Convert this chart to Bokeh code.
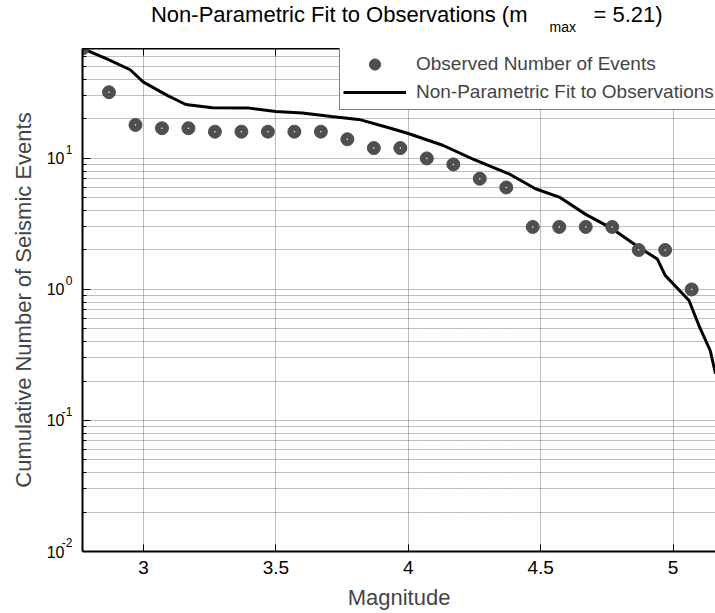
from bokeh.plotting import figure
from bokeh.layouts import column
from bokeh.models import (Range1d, LinearAxis, LogAxis, FixedTicker, Legend, LegendItem,
                          CustomJSTickFormatter)
from bokeh.core.properties import value
from bokeh.embed import file_html
from bokeh.resources import INLINE

# ---------------- data ----------------
magnitudes = [2.77, 2.87, 2.97, 3.07, 3.17, 3.27, 3.37, 3.47, 3.57, 3.67, 3.77, 3.87,
              3.97, 4.07, 4.17, 4.27, 4.37, 4.47, 4.57, 4.67, 4.77, 4.87, 4.97, 5.07]
observed_counts = [69, 32, 18, 17, 17, 16, 16, 16, 16, 16, 14, 12,
                   12, 10, 9, 7, 6, 3, 3, 3, 3, 2, 2, 1]

fit_magnitudes = [2.77, 2.86, 2.95, 3.00, 3.09, 3.16, 3.26, 3.40, 3.50, 3.60, 3.71, 3.82,
                  3.92, 4.00, 4.13, 4.24, 4.38, 4.48, 4.57, 4.67, 4.77, 4.87, 4.94, 4.97,
                  5.06, 5.10, 5.14, 5.16]
fit_counts = [69, 57.7, 47.5, 38.2, 30.3, 25.8, 24.4, 24.2, 22.8, 22.2, 20.9, 19.7,
              17.3, 15.5, 12.6, 9.95, 7.63, 5.87, 5.07, 3.74, 2.91, 2.10, 1.71, 1.28,
              0.824, 0.515, 0.342, 0.228]

x_ticks = [3, 3.5, 4, 4.5, 5]
y_decades = [-2, -1, 0, 1]
y_tick_base = "10"
y_exponent_labels = ["-2", "-1", "0", "1"]

title_main = "Non-Parametric Fit to Observations (m"
title_sub = "max"
title_tail = "= 5.21)"
x_label = "Magnitude"
y_label = "Cumulative Number of Seismic Events"
legend_labels = ["Observed Number of Events", "Non-Parametric Fit to Observations"]

FONT = "Liberation Sans"
x_start, x_end = 2.77, 5.16
y_start, y_end = 0.01, 69

# ---------------- header with title (subscript) ----------------
# The column aligns this frame with the main frame (page x 82..715), so the
# header range is expressed in page pixels.
head = figure(width=715, height=48, x_range=Range1d(82, 715), y_range=Range1d(0, 48),
              output_backend="svg", toolbar_location=None, title=None,
              x_axis_location=None, y_axis_location=None,
              min_border_left=0, min_border_right=0, min_border_top=0, min_border_bottom=0)
head.outline_line_color = None
head.xgrid.visible = False
head.ygrid.visible = False
head.text(x=[527], y=[34], text=[title_main], text_align="right", text_baseline="alphabetic",
          text_font=value(FONT), text_font_size="22px", text_color="black")
head.text(x=[549], y=[22], text=[title_sub], text_align="left", text_baseline="alphabetic",
          text_font=value(FONT), text_font_size="14px", text_color="black")
head.text(x=[593], y=[34], text=[title_tail], text_align="left", text_baseline="alphabetic",
          text_font=value(FONT), text_font_size="22px", text_color="black")

# ---------------- main figure ----------------
p = figure(width=715, height=565, title=None,
           x_range=Range1d(x_start, x_end), y_range=Range1d(y_start, y_end),
           y_axis_type="log", y_axis_location=None, output_backend="svg",
           toolbar_location=None,
           min_border_left=82, min_border_right=0, min_border_top=0, min_border_bottom=62,
           x_axis_label=x_label)
p.outline_line_color = None
p.background_fill_color = "white"
p.border_fill_color = "white"

empty_fmt = CustomJSTickFormatter(code="return ''")
major_y = [10 ** d for d in y_decades]
minor_y = [m * 10 ** d for d in y_decades for m in range(2, 10)]

# x axis (bottom)
xa = p.xaxis[0]
xa.ticker = FixedTicker(ticks=x_ticks)
xa.major_tick_in = 7
xa.major_tick_out = 0
xa.minor_tick_line_color = None
xa.axis_line_width = 2
xa.major_label_text_font = FONT
xa.major_label_text_font_size = "19px"
xa.major_label_text_color = "black"
xa.major_label_standoff = 9
xa.axis_label_text_font = FONT
xa.axis_label_text_font_size = "22px"
xa.axis_label_text_font_style = "normal"
xa.axis_label_standoff = 8

# y axis: inner axis carries the line, ticks and the raised exponents
exp_fmt = CustomJSTickFormatter(args=dict(decs=y_decades, exps=y_exponent_labels),
                                code="return exps[decs.indexOf(Math.round(Math.log10(tick)))] + '\\n\\u00a0';")
ya = LogAxis(ticker=FixedTicker(ticks=major_y, minor_ticks=minor_y), formatter=exp_fmt,
             major_tick_in=8, major_tick_out=0, minor_tick_in=4, minor_tick_out=0,
             axis_line_width=2, major_label_standoff=10,
             major_label_text_font=FONT, major_label_text_font_size="12px",
             major_label_text_color="black")
p.add_layout(ya, "left")
# outer axis carries the "10" bases and the axis title
base_fmt = CustomJSTickFormatter(args=dict(base=y_tick_base), code="return base;")
yb = LogAxis(ticker=FixedTicker(ticks=major_y), formatter=base_fmt,
             axis_line_color=None, major_tick_line_color=None, minor_tick_line_color=None,
             major_tick_in=0, major_tick_out=0, minor_tick_in=0, minor_tick_out=0,
             major_label_standoff=-6, major_label_text_font=FONT,
             major_label_text_font_size="16px", major_label_text_color="black",
             axis_label=y_label, axis_label_text_font=FONT, axis_label_text_font_size="22px",
             axis_label_text_font_style="normal", axis_label_standoff=8)
p.add_layout(yb, "left")

# top axis (ticks only)
top = LinearAxis(ticker=FixedTicker(ticks=x_ticks), formatter=empty_fmt,
                 major_tick_in=7, major_tick_out=0, minor_tick_line_color=None,
                 axis_line_width=2, major_label_text_font_size="0px", major_label_standoff=0)
p.add_layout(top, "above")

# grids
grid_color = "#7c7c7c"
p.xgrid.ticker = FixedTicker(ticks=x_ticks)
p.xgrid.grid_line_color = grid_color
p.xgrid.grid_line_dash = "1 1"
p.ygrid.ticker = FixedTicker(ticks=major_y, minor_ticks=minor_y)
p.ygrid.grid_line_color = grid_color
p.ygrid.grid_line_dash = "1 1"
p.ygrid.minor_grid_line_color = grid_color
p.ygrid.minor_grid_line_dash = "1 1"

# ---------------- data glyphs ----------------
r_line = p.line(fit_magnitudes, fit_counts, line_color="black", line_width=3)
r_obs = p.scatter(magnitudes, observed_counts, size=13, fill_color="#4f4f4f",
                  line_color="#4f4f4f", line_width=1)
r_dot = p.scatter(magnitudes, observed_counts, size=1.5, fill_color="white",
                  line_color=None)

legend = Legend(items=[LegendItem(label=legend_labels[0], renderers=[r_obs]),
                       LegendItem(label=legend_labels[1], renderers=[r_line])],
                location=(257, 441), orientation="vertical",
                border_line_color="black", border_line_width=1,
                background_fill_color="white", background_fill_alpha=1,
                padding=3, spacing=0, margin=0,
                glyph_width=63, glyph_height=28, label_height=28, label_standoff=10,
                label_text_font=FONT, label_text_font_size="19px",
                label_text_baseline="middle")
p.add_layout(legend)

open("out.html", "w").write(file_html(column(head, p, spacing=0), INLINE))
